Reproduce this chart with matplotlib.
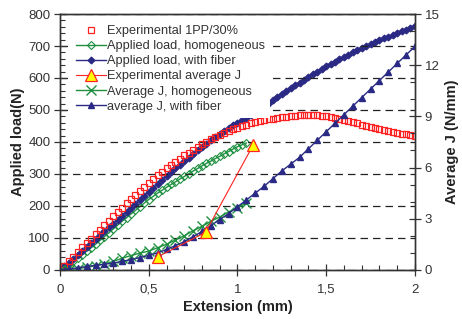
import numpy as np
import matplotlib
matplotlib.use("Agg")
import matplotlib.pyplot as plt
from matplotlib.ticker import MultipleLocator, FixedLocator, FixedFormatter

plt.rcParams['font.family'] = ['Liberation Sans', 'DejaVu Sans']

# --- data ---
# Experimental 1PP/30% (load, N)
x_exp = np.arange(0, 81) * 0.025
load_exp = [0, 12, 27, 41, 55, 70, 84, 98, 112, 126, 140, 154, 168, 182, 195, 209,
            222, 235, 247, 260, 272, 284, 296, 307, 318, 328, 338, 348, 358, 367,
            376, 385, 393, 401, 408, 415, 422, 428, 434, 440, 445, 450, 454, 458,
            462, 465, 468, 471, 473, 475, 477, 479, 481, 482, 483, 484, 484, 484,
            483, 482, 480, 478, 475, 472, 469, 465, 462, 458, 454, 450, 446, 443,
            440, 437, 434, 431, 428, 426, 424, 422, 420]

# Applied load, with fiber (N)
x_fib = np.arange(0, 81) * 0.025
load_fib = [0, 12, 23, 35, 47, 59, 71, 84, 96, 108, 120, 133, 145, 157, 170, 182,
            195, 207, 220, 232, 245, 257, 270, 282, 294, 305, 317, 329, 340, 351,
            363, 374, 385, 395, 405, 415, 425, 434, 443, 452, 460, 468, 475, 483,
            492, 502, 512, 522, 532, 542, 551, 560, 568, 577, 585, 594, 603, 612,
            620, 628, 636, 644, 651, 659, 666, 673, 680, 687, 694, 700, 706, 712,
            718, 724, 729, 735, 740, 746, 751, 757, 762]

# Applied load, homogeneous (N)
x_hom = np.arange(0, 43) * 0.025
load_hom = [0, 9, 19, 28, 38, 48, 59, 69, 80, 92, 104, 116, 128, 140, 152, 163,
            175, 186, 198, 209, 220, 230, 240, 249, 258, 267, 275, 284, 292, 300,
            309, 317, 325, 333, 340, 348, 355, 363, 370, 378, 385, 391, 397]

# Experimental average J (N/mm)
x_jexp = [0.55, 0.82, 1.09]
j_exp = [0.76, 2.2, 7.35]

# Average J, homogeneous (N/mm)
x_jhom = np.arange(0, 22) * 0.05
j_hom = [0, 0.02, 0.07, 0.15, 0.24, 0.35, 0.5, 0.68, 0.84, 0.98, 1.1, 1.3, 1.5,
         1.75, 2.0, 2.3, 2.55, 2.85, 3.1, 3.4, 3.65, 3.9]

# average J, with fiber (N/mm)
x_jfib = np.arange(0, 41) * 0.05
j_fib = [0, 0.05, 0.12, 0.2, 0.27, 0.33, 0.4, 0.5, 0.6, 0.72, 0.85, 1.0, 1.2,
         1.42, 1.65, 1.95, 2.25, 2.6, 2.95, 3.3, 3.7, 4.1, 4.5, 4.9, 5.35, 5.8,
         6.2, 6.6, 7.1, 7.6, 8.1, 8.6, 9.1, 9.6, 10.1, 10.6, 11.1, 11.6, 12.1,
         12.6, 13.1]

x_ticks = [0, 0.5, 1, 1.5, 2]
x_tick_labels = ['0', '0,5', '1', '1,5', '2']

red = '#ff2222'
green = '#1e9040'
blue = '#2a2a85'
grey = '#333333'

fig = plt.figure(figsize=(4.62, 3.19), dpi=100)
ax = fig.add_axes([0.130, 0.154, 0.768, 0.802])
ax2 = ax.twinx()

h1, = ax.plot(x_exp, load_exp, ls='none', marker='s', ms=3.8, mfc='none',
              mec=red, mew=0.9, label='Experimental 1PP/30%', zorder=3)
h2, = ax.plot(x_hom, load_hom, color=green, lw=1, marker='D', ms=3.6,
              mfc='none', mec=green, mew=0.8, label='Applied load, homogeneous')
h3, = ax.plot(x_fib, load_fib, color=blue, lw=1, marker='D', ms=3.4,
              mfc=blue, mec=blue, label='Applied load, with fiber', zorder=2.5)

h5, = ax2.plot(x_jhom, j_hom, color=green, lw=1, marker='x', ms=6.5, mew=1.0,
               label='Average J, homogeneous')
h6, = ax2.plot(x_jfib, j_fib, color=blue, lw=1, marker='^', ms=4.2,
               mfc=blue, mec=blue, label='average J, with fiber')
h4, = ax2.plot(x_jexp, j_exp, color=red, lw=0.8, marker='^', ms=9,
               mfc='#ffff00', mec=red, mew=0.9, label='Experimental average J')

ax.set_xlim(0, 2)
ax.set_ylim(0, 800)
ax2.set_ylim(0, 15)

ax.xaxis.set_major_locator(FixedLocator(x_ticks))
ax.xaxis.set_major_formatter(FixedFormatter(x_tick_labels))
ax.xaxis.set_minor_locator(MultipleLocator(0.1))
ax.yaxis.set_major_locator(MultipleLocator(100))
ax.yaxis.set_minor_locator(MultipleLocator(20))
ax2.yaxis.set_major_locator(MultipleLocator(3))
ax2.yaxis.set_minor_locator(MultipleLocator(1))

for a in (ax, ax2):
    a.tick_params(which='major', direction='inout', length=8, width=0.9,
                  colors=grey, labelsize=9.5, labelcolor='#333333')
    a.tick_params(which='minor', direction='in', length=3.5, width=0.8,
                  colors=grey)
    for s in a.spines.values():
        s.set_color(grey)
        s.set_linewidth(1.0)
ax.tick_params(axis='x', which='major', pad=6)
ax.tick_params(axis='y', which='major', pad=3)
ax2.tick_params(axis='y', which='major', pad=3)

ax.grid(axis='y', ls=(0, (6, 4)), color='#222222', lw=0.9)
ax.set_axisbelow(False)

ax.set_xlabel('Extension (mm)', fontsize=10.5, fontweight='bold',
              color='#222222', labelpad=3)
ax.set_ylabel('Applied load(N)', fontsize=10.5, fontweight='bold',
              color='#222222', labelpad=2)
ax2.set_ylabel('Average J (N/mm)', fontsize=10.5, fontweight='bold',
               color='#222222', labelpad=4)

leg = ax2.legend(handles=[h1, h2, h3, h4, h5, h6], loc='upper left',
                 bbox_to_anchor=(0.030, 0.976), fontsize=9.2, frameon=True,
                 facecolor='white', edgecolor='none', framealpha=1,
                 fancybox=False, handlelength=2.35, handletextpad=0.1,
                 labelspacing=0.24, borderpad=0.4, borderaxespad=0)
for t in leg.get_texts():
    t.set_color('#333333')

fig.savefig('out.png', dpi=100)
